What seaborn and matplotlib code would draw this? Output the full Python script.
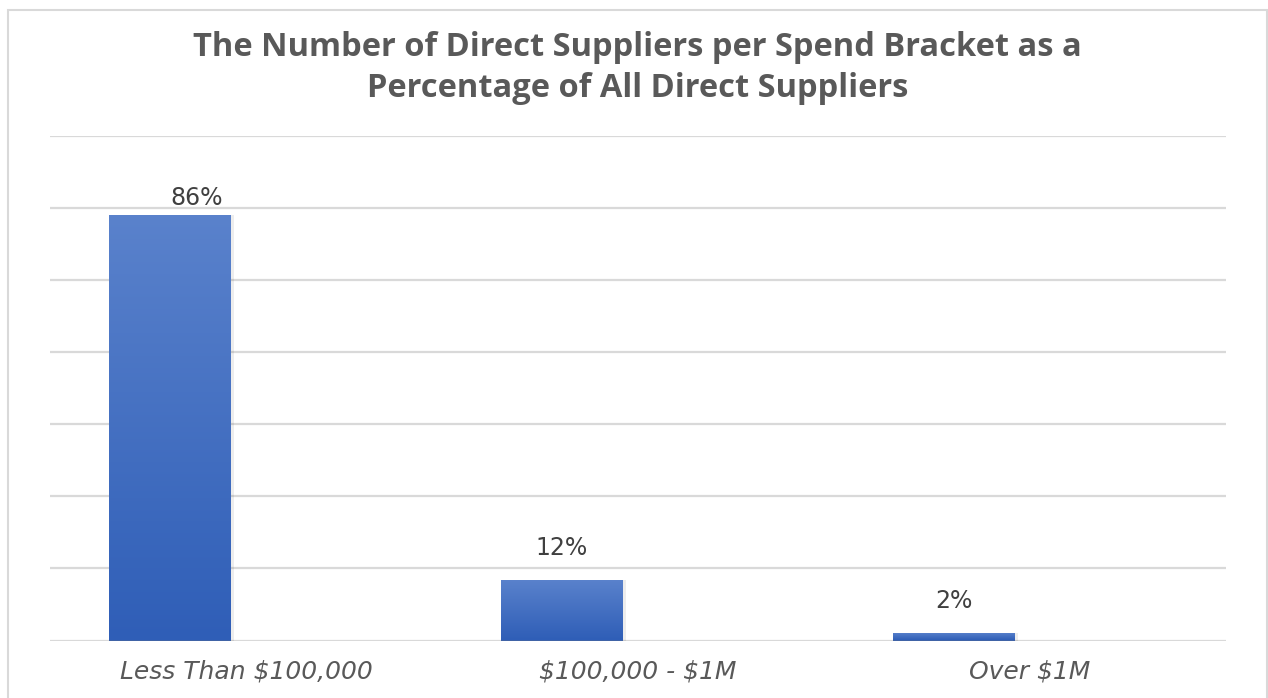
import matplotlib.pyplot as plt
import matplotlib.patches as mpatches
from matplotlib.colors import LinearSegmentedColormap
import numpy as np
import pandas as pd
import seaborn as sns

# data
brackets = ["Less Than $100,000", "$100,000 - $1M", "Over $1M"]
supplier_share = [0.86, 0.122, 0.016]
empty_share = [0.0, 0.0, 0.0]
series_names = ["Suppliers", "Blank"]
title = "The Number of Direct Suppliers per Spend Bracket as a\nPercentage of All Direct Suppliers"

df = pd.DataFrame({
    "bracket": brackets * 2,
    "series": [series_names[0]] * 3 + [series_names[1]] * 3,
    "share": supplier_share + empty_share,
})

sns.set_theme(style="white")
plt.rcParams["font.family"] = ["DejaVu Sans"]
plt.rcParams["text.parse_math"] = False

GRID = "#D9D9D9"
TEXT = "#595959"
TOP_BLUE = "#5A82CC"
BOTTOM_BLUE = "#2F5EB7"

fig = plt.figure(figsize=(12.68, 6.98), dpi=100)
ax = fig.add_axes([50 / 1268, (698 - 640.5) / 698, 1176 / 1268, 504.5 / 698])

sns.barplot(
    data=df, x="bracket", y="share", hue="series", order=brackets,
    hue_order=series_names, palette=[BOTTOM_BLUE, "white"],
    width=0.776, gap=0.2, linewidth=0, legend=False, ax=ax,
)

ymax = 1.02
ax.set_ylim(0, ymax)
ax.set_xlim(-0.5, 2.5)
ax.set_yticks(np.linspace(0, ymax, 8))
ax.yaxis.grid(True, color=GRID, linewidth=1.6)
ax.set_axisbelow(True)
ax.set_yticklabels([])
ax.set_xlabel("")
ax.set_ylabel("")
for side in ["top", "right", "left", "bottom"]:
    ax.spines[side].set_visible(False)
ax.tick_params(axis="x", length=0, pad=14, labelsize=18, labelcolor=TEXT)
ax.tick_params(axis="y", length=0)
for lbl in ax.get_xticklabels():
    lbl.set_fontstyle("italic")

# gradient fill on the real bars
cmap = LinearSegmentedColormap.from_list("bar", [BOTTOM_BLUE, TOP_BLUE])
grad = np.linspace(0, 1, 256).reshape(-1, 1)
bars = [p for p in ax.patches if isinstance(p, mpatches.Rectangle) and p.get_height() > 0]
for p in bars:
    x0, w, h = p.get_x(), p.get_width(), p.get_height()
    im = ax.imshow(grad, extent=[x0, x0 + w, 0, h], origin="lower", cmap=cmap,
                   aspect="auto", zorder=p.get_zorder() + 0.1)
    im.set_clip_path(p)
    # soft shadow to the right
    ax.add_patch(mpatches.Rectangle((x0 + w, 0), 0.008, h, color="#000000",
                                    alpha=0.07, lw=0, zorder=p.get_zorder()))
ax.set_xlim(-0.5, 2.5)
ax.set_ylim(0, ymax)

# value labels
label_nudge = {0: (19, 12)}
for i, p in enumerate(bars):
    dx, dy = label_nudge.get(i, (0, 23))
    ax.annotate(f"{supplier_share[i]:.0%}", (p.get_x() + p.get_width() / 2, p.get_height()),
                xytext=(dx, dy), textcoords="offset points", ha="center", va="center",
                fontsize=17, color="#404040")

fig.text(0.503, 1 - 68 / 698, title, ha="center", va="center", fontsize=23.5,
         fontweight="bold", color=TEXT, family=["Open Sans", "DejaVu Sans"], linespacing=1.3)

fig.add_artist(mpatches.Rectangle((8 / 1268, -0.05), 1259 / 1268, 1.05 - 10 / 698,
                                  transform=fig.transFigure, fill=False,
                                  edgecolor=GRID, linewidth=1.5))

fig.savefig("out.png", dpi=100)
